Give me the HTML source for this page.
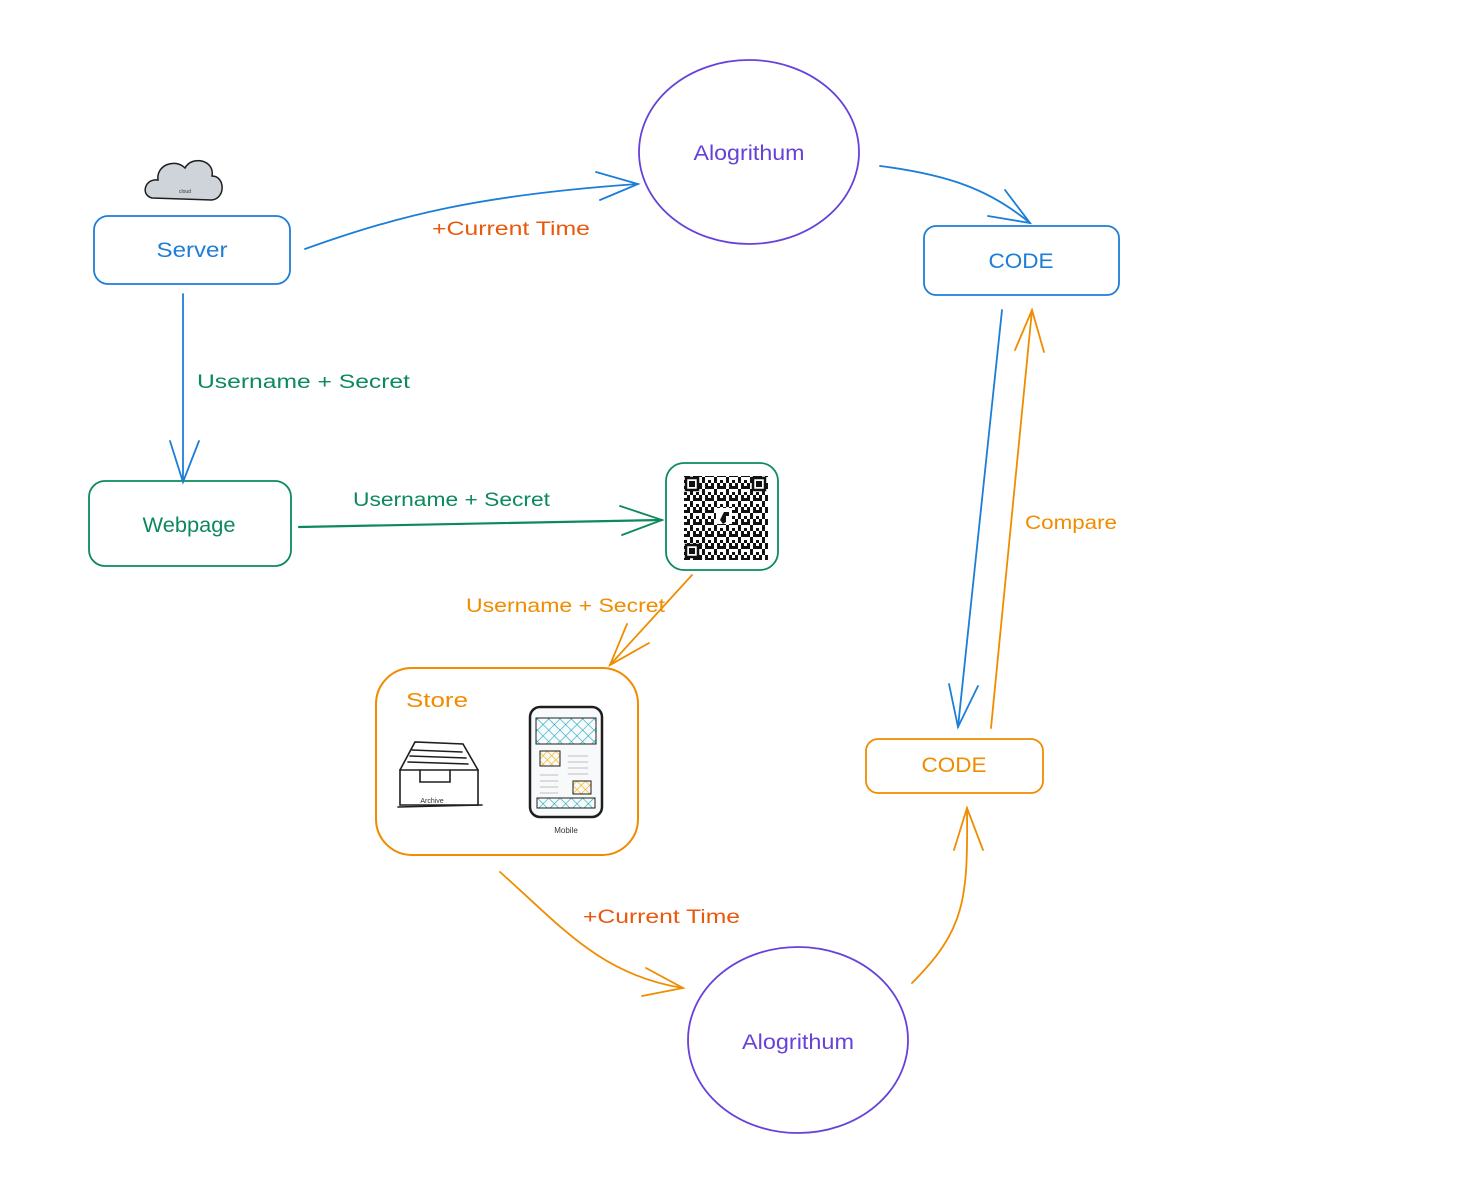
<!DOCTYPE html>
<html><head><meta charset="utf-8"><style>
html,body{margin:0;padding:0;background:#fff}
svg{display:block}
text{font-family:"Liberation Sans",sans-serif}
</style></head><body>
<svg width="1462" height="1178" viewBox="0 0 1462 1178" xmlns="http://www.w3.org/2000/svg">
<defs>
<pattern id="qr" width="12" height="12" patternUnits="userSpaceOnUse">
<rect x="0" y="0" width="3" height="3" fill="#111"/><rect x="6" y="0" width="3" height="3" fill="#111"/>
<rect x="3" y="3" width="3" height="3" fill="#111"/><rect x="9" y="3" width="3" height="3" fill="#111"/>
<rect x="0" y="6" width="3" height="3" fill="#111"/><rect x="3" y="6" width="3" height="3" fill="#111"/>
<rect x="6" y="9" width="3" height="3" fill="#111"/><rect x="9" y="6" width="3" height="3" fill="#111"/>
</pattern>
<pattern id="hatchB" width="8" height="8" patternUnits="userSpaceOnUse" patternTransform="rotate(45)">
<line x1="0" y1="0" x2="0" y2="8" stroke="#15aabf" stroke-width="1.2"/><line x1="0" y1="0" x2="8" y2="0" stroke="#15aabf" stroke-width="1.2"/>
</pattern>
<pattern id="hatchY" width="6" height="6" patternUnits="userSpaceOnUse" patternTransform="rotate(45)">
<line x1="0" y1="0" x2="0" y2="6" stroke="#fab005" stroke-width="1.2"/><line x1="0" y1="0" x2="6" y2="0" stroke="#fab005" stroke-width="1.2"/>
</pattern>
</defs>
<g fill="none" stroke-width="1.8" stroke-linecap="round">
<path d="M152 198 C140 195 145 178 158 180 C156 165 175 158 185 168 C192 155 215 160 212 176 C225 176 226 198 212 200 Z" fill="#ced4da" stroke="#1e1e1e" stroke-width="1.5"/>
<text x="185" y="193" font-size="5" fill="#333" stroke="none" text-anchor="middle">cloud</text>

<rect x="94" y="216" width="196" height="68" rx="14" stroke="#1c7ed6"/>
<rect x="924" y="226" width="195" height="69" rx="12" stroke="#1c7ed6"/>
<rect x="89" y="481" width="202" height="85" rx="16" stroke="#0c8a5c"/>
<rect x="666" y="463" width="112" height="107" rx="18" stroke="#0c8a5c"/>
<rect x="376" y="668" width="262" height="187" rx="36" stroke="#f08c00" stroke-width="2"/>
<rect x="866" y="739" width="177" height="54" rx="12" stroke="#f08c00"/>
<ellipse cx="749" cy="152" rx="110" ry="92" stroke="#6741d9"/>
<ellipse cx="798" cy="1040" rx="110" ry="93" stroke="#6741d9"/>

<path d="M305 249 C400 215 480 195 638 184" stroke="#1c7ed6"/>
<path d="M596 172 L638 184 L600 200" stroke="#1c7ed6"/>
<path d="M880 166 C950 175 990 190 1030 223" stroke="#1c7ed6"/>
<path d="M1005 190 L1030 223 L988 216" stroke="#1c7ed6"/>
<path d="M183 294 L183 482" stroke="#1c7ed6"/>
<path d="M170 441 L183 482 L199 441" stroke="#1c7ed6"/>
<path d="M299 527 L662 520" stroke="#0c8a5c" stroke-width="2.2"/>
<path d="M620 506 L662 520 L622 535" stroke="#0c8a5c"/>
<path d="M692 575 L610 665" stroke="#f08c00"/>
<path d="M627 624 L610 665 L649 643" stroke="#f08c00"/>
<path d="M500 872 C560 925 600 975 683 988" stroke="#f08c00"/>
<path d="M646 968 L683 988 L642 996" stroke="#f08c00"/>
<path d="M912 983 C965 930 968 900 967 808" stroke="#f08c00"/>
<path d="M954 850 L967 808 L983 850" stroke="#f08c00"/>
<path d="M1002 310 L958 727" stroke="#1c7ed6"/>
<path d="M949 684 L958 727 L978 686" stroke="#1c7ed6"/>
<path d="M991 728 L1032 310" stroke="#f08c00"/>
<path d="M1015 350 L1032 310 L1044 352" stroke="#f08c00"/>

<rect x="684" y="476" width="84" height="84" fill="url(#qr)" stroke="none"/>
<g stroke="#111" stroke-width="2.5" fill="#fff">
<rect x="686" y="478" width="12" height="12"/><rect x="753" y="478" width="12" height="12"/><rect x="686" y="545" width="12" height="12"/>
</g>
<g fill="#111" stroke="none"><rect x="689" y="481" width="6" height="6"/><rect x="756" y="481" width="6" height="6"/><rect x="689" y="548" width="6" height="6"/>
<rect x="716" y="508" width="16" height="16" fill="#fff"/><path d="M720 520 l4-8 h5 v4 h-3 v6 l-3 2z"/></g>

<g stroke="#1e1e1e" stroke-width="1.6">
<path d="M400 770 L415 742 L463 744 L478 770"/>
<path d="M400 770 L400 805 L478 805 L478 770 Z"/>
<path d="M412 750 L462 752 M410 756 L466 758 M408 762 L468 764"/>
<path d="M420 770 L420 782 L450 782 L450 770"/>
<path d="M398 807 L482 805"/>
</g>
<text x="432" y="803" font-size="7" fill="#333" stroke="none" text-anchor="middle">Archive</text>
<rect x="530" y="707" width="72" height="110" rx="10" stroke="#1e1e1e" stroke-width="2.5" fill="#f8f9fa"/>
<rect x="536" y="718" width="60" height="26" fill="url(#hatchB)" stroke="#1e1e1e" stroke-width="1"/>
<rect x="540" y="751" width="20" height="15" fill="url(#hatchY)" stroke="#1e1e1e" stroke-width="1"/>
<rect x="573" y="781" width="18" height="13" fill="url(#hatchY)" stroke="#1e1e1e" stroke-width="1"/>
<rect x="537" y="798" width="58" height="10" fill="url(#hatchB)" stroke="#1e1e1e" stroke-width="1"/>
<g stroke="#888" stroke-width="0.6"><path d="M568 756h20M568 762h20M568 768h20M568 774h20M540 775h18M540 781h18M540 787h18M540 793h18"/></g>
<text x="566" y="833" font-size="8" fill="#333" stroke="none" text-anchor="middle">Mobile</text>
</g>

<g font-size="21" text-anchor="middle" lengthAdjust="spacingAndGlyphs">
<text x="192" y="257" fill="#1c7ed6" textLength="71" lengthAdjust="spacingAndGlyphs">Server</text>
<text x="1021" y="268" fill="#1c7ed6" textLength="65" lengthAdjust="spacingAndGlyphs">CODE</text>
<text x="189" y="532" fill="#0c8a5c" textLength="93" lengthAdjust="spacingAndGlyphs">Webpage</text>
<text x="954" y="772" fill="#f08c00" textLength="65" lengthAdjust="spacingAndGlyphs">CODE</text>
<text x="749" y="160" fill="#6741d9" textLength="111" lengthAdjust="spacingAndGlyphs">Alogrithum</text>
<text x="798" y="1049" fill="#6741d9" textLength="112" lengthAdjust="spacingAndGlyphs">Alogrithum</text>
</g>
<g font-size="19">
<text x="432" y="235" fill="#e8590c" textLength="158" lengthAdjust="spacingAndGlyphs">+Current Time</text>
<text x="583" y="923" fill="#e8590c" textLength="157" lengthAdjust="spacingAndGlyphs">+Current Time</text>
<text x="197" y="388" fill="#0c8a5c" textLength="213" lengthAdjust="spacingAndGlyphs">Username + Secret</text>
<text x="353" y="506" fill="#0c8a5c" textLength="197" lengthAdjust="spacingAndGlyphs">Username + Secret</text>
<text x="466" y="612" fill="#f08c00" textLength="199" lengthAdjust="spacingAndGlyphs">Username + Secret</text>
<text x="1025" y="529" fill="#f08c00" textLength="92" lengthAdjust="spacingAndGlyphs">Compare</text>
<text x="406" y="707" fill="#f08c00" font-size="20" textLength="62" lengthAdjust="spacingAndGlyphs">Store</text>
</g>
</svg>
</body></html>
